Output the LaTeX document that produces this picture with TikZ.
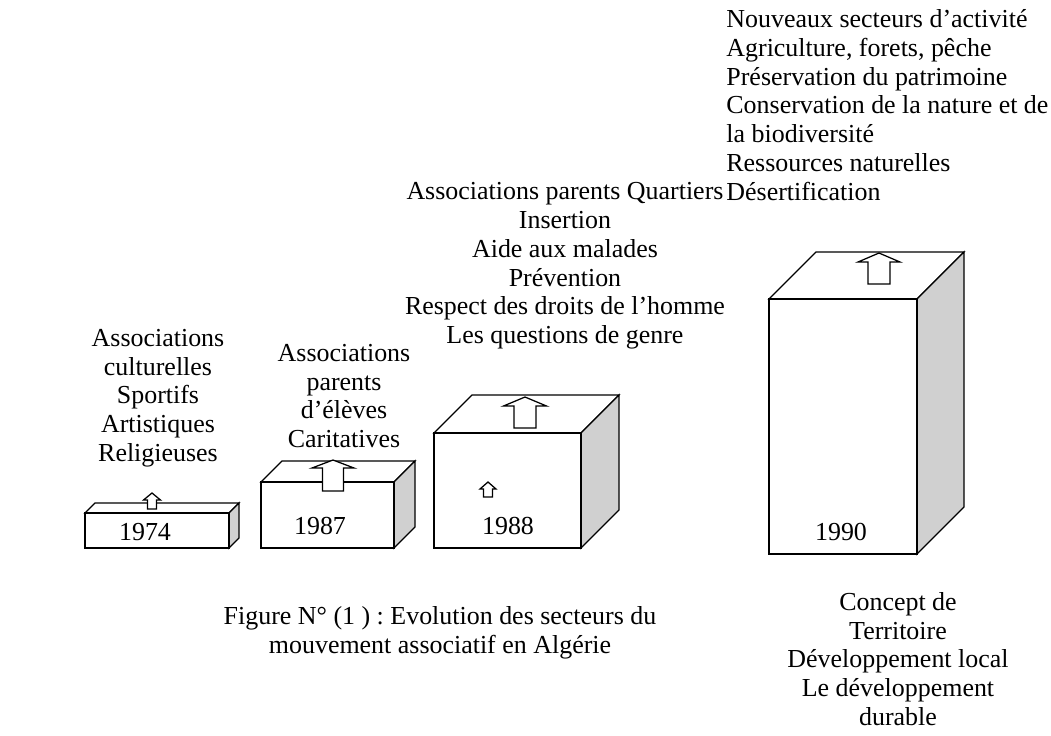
\documentclass[tikz,border=0pt]{standalone}
\usepackage{fontspec}
\setmainfont{Liberation Serif}
\usepackage{tikz}
\usetikzlibrary{positioning}

\definecolor{sidegray}{RGB}{208,208,208}
\frenchspacing

% cuboid: front face (x1,y1)-(x2,y2), depth d
\newcommand{\cuboid}[5]{%
  \filldraw[face] (#1,#2) -- (#1+#5,#2-#5) -- (#3+#5,#2-#5) -- (#3,#2) -- cycle;
  \filldraw[side] (#3,#2) -- (#3+#5,#2-#5) -- (#3+#5,#4-#5) -- (#3,#4) -- cycle;
  \filldraw[face] (#1,#2) rectangle (#3,#4);
}
% hollow up arrow: centre x, tip y, head base y, bottom y, half shaft, half head
\newcommand{\uparrowblock}[6]{%
  \draw[hollow] (#1-#5,#4) -- (#1-#5,#3) -- (#1-#6,#3) -- (#1,#2)
    -- (#1+#6,#3) -- (#1+#5,#3) -- (#1+#5,#4) -- cycle;
}

\begin{document}
\begin{tikzpicture}[
  x=0.0168cm, y=-0.0168cm,
  face/.style={draw=black, fill=white, line width=0.6pt, line join=miter},
  side/.style={draw=black, fill=sidegray, line width=0.6pt},
  hollow/.style={draw=black, fill=white, line width=0.6pt},
  txt/.style={align=center, inner sep=0pt, font=\fontsize{12.4}{13.75}\selectfont},
  year/.style={inner sep=0pt, font=\fontsize{12.4}{13.75}\selectfont},
]
  \useasboundingbox (0,0) rectangle (1051,735);

  % blocks
  \cuboid{85}{513}{229}{548}{10}
  \cuboid{261}{482}{394}{548}{21}
  \cuboid{434}{433}{581}{548}{38}
  \cuboid{769}{299}{917}{554}{47}

  % arrows
  \uparrowblock{152}{493}{500}{509}{4.5}{8.5}
  \uparrowblock{333}{460}{468}{491}{10.5}{21}
  \uparrowblock{525}{397}{406}{428}{11}{21.5}
  \uparrowblock{488}{482}{489}{497}{4.5}{8}
  \uparrowblock{879}{253}{262}{284}{11}{21}

  % years
  \node[year] (y74) at (145,532) {1974};
  \node[year] (y87) at (320,526) {1987};
  \node[year] (y88) at (508,526) {1988};
  \node[year] (y90) at (841,532) {1990};

  % sectors
  \node[txt] (s74) at (158,398) {Associations\\culturelles\\Sportifs\\Artistiques\\Religieuses};
  \node[txt] (s87) at (344,396) {Associations\\parents\\d’élèves\\Caritatives};
  \node[txt] (s88) at (565,266) {Associations parents Quartiers\\Insertion\\Aide aux malades\\Prévention\\Respect des droits de l’homme\\Les questions de genre};
  \node[txt, align=left, anchor=west] (s90) at (726,105) {Nouveaux secteurs d’activité\\Agriculture, forets, pêche\\Préservation du patrimoine\\Conservation de la nature et de\\la biodiversité\\Ressources naturelles\\Désertification};
  \node[txt] (c90) at (898,659) {Concept de\\Territoire\\Développement local\\Le développement\\durable};

  \node[txt] (caption) at (440,633) {Figure N° (1 ) : Evolution des secteurs du\\mouvement associatif en Algérie};
\end{tikzpicture}
\end{document}
